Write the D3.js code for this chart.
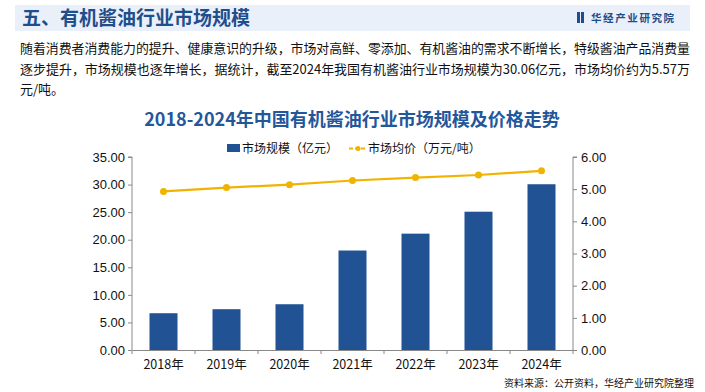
<!DOCTYPE html>
<html><head><meta charset="utf-8">
<script src="https://cdn.jsdelivr.net/npm/d3@7/dist/d3.min.js"></script>
<style>
html,body{margin:0;padding:0;background:#fff;}
svg{display:block;}
</style></head>
<body>
<svg id="c" width="705" height="392"></svg>
<script>
const categories = ["2018年","2019年","2020年","2021年","2022年","2023年","2024年"];
const marketSize = [6.67, 7.40, 8.30, 18.04, 21.10, 25.08, 30.06];
const avgPrice = [4.93, 5.05, 5.14, 5.27, 5.36, 5.44, 5.57];
const leftTicks = [0,5,10,15,20,25,30,35];
const rightTicks = [0,1,2,3,4,5,6];
const seriesNames = ["市场规模（亿元）","市场均价（万元/吨）"];

const svg = d3.select("#c");
const cjk = "'Noto Sans CJK SC','Noto Sans',sans-serif";
const num = "'Liberation Sans',Arial,sans-serif";

// header band
svg.append("rect").attr("x",15).attr("y",5).attr("width",675).attr("height",26).attr("fill","#eaf0fa");
svg.append("text").attr("x",22).attr("y",25).attr("font-family",cjk).attr("font-weight","bold")
  .attr("font-size",19).attr("fill","#1f4e8c").text("五、有机酱油行业市场规模");
// logo
svg.append("rect").attr("x",577).attr("y",12).attr("width",3).attr("height",11).attr("fill","#1f4e8c");
svg.append("rect").attr("x",581).attr("y",12).attr("width",3).attr("height",11).attr("fill","#1f4e8c");
svg.append("text").attr("x",591).attr("y",22).attr("font-family",cjk).attr("font-weight","bold")
  .attr("font-size",10.5).attr("letter-spacing",1.6).attr("fill","#1f4e8c").text("华经产业研究院");

// paragraph
const para = ["随着消费者消费能力的提升、健康意识的升级，市场对高鲜、零添加、有机酱油的需求不断增长，特级酱油产品消费量",
  "逐步提升，市场规模也逐年增长，据统计，截至2024年我国有机酱油行业市场规模为30.06亿元，市场均价约为5.57万",
  "元/吨。"];
para.forEach((t,i)=>{
  const el = svg.append("text").attr("x",20).attr("y",53+i*20.5).attr("font-family",cjk)
    .attr("font-size",13).attr("fill","#111").text(t);
  if(i<2) el.attr("textLength",670).attr("lengthAdjust","spacingAndGlyphs");
});

// chart title
svg.append("text").attr("x",352).attr("y",126).attr("text-anchor","middle").attr("font-family",cjk)
  .attr("font-weight","bold").attr("font-size",18).attr("fill","#24579a")
  .text("2018-2024年中国有机酱油行业市场规模及价格走势");

// legend
svg.append("rect").attr("x",227).attr("y",144).attr("width",13).attr("height",8).attr("fill","#215394");
svg.append("text").attr("x",242).attr("y",153).attr("font-family",cjk).attr("font-size",12).attr("fill","#111").text(seriesNames[0]);
svg.append("line").attr("x1",349).attr("x2",367).attr("y1",148.5).attr("y2",148.5).attr("stroke","#f0b400").attr("stroke-width",2).attr("stroke-dasharray","4,2");
svg.append("circle").attr("cx",358).attr("cy",148.5).attr("r",2.5).attr("fill","#f0b400");
svg.append("text").attr("x",368).attr("y",153).attr("font-family",cjk).attr("font-size",12).attr("fill","#111").text(seriesNames[1]);

// plot
const L=132, R=573, T=157, B=350;
const x = d3.scaleBand().domain(categories).range([L,R]).paddingInner(0.56).paddingOuter(0.28);
const xb = d3.scaleBand().domain(categories).range([L,R]);
const yL = d3.scaleLinear().domain([0,35]).range([B,T]);
const yR = d3.scaleLinear().domain([0,6]).range([B,T]);

svg.selectAll(".bar").data(marketSize).join("rect").attr("class","bar")
  .attr("x",(d,i)=>xb(categories[i])+xb.bandwidth()/2-14).attr("width",28)
  .attr("y",d=>yL(d)).attr("height",d=>B-yL(d)).attr("fill","#215394");

// axes
const axL = svg.append("g").attr("transform",`translate(${L},0)`)
  .call(d3.axisLeft(yL).tickValues(leftTicks).tickFormat(d3.format(".2f")).tickSize(4).tickPadding(3));
const axR = svg.append("g").attr("transform",`translate(${R},0)`)
  .call(d3.axisRight(yR).tickValues(rightTicks).tickFormat(d3.format(".2f")).tickSize(4).tickPadding(4));
const axB = svg.append("g").attr("transform",`translate(0,${B})`)
  .call(d3.axisBottom(xb).tickSize(0).tickPadding(10));
// boundary ticks on x axis
svg.append("g").selectAll("line").data(d3.range(categories.length+1)).join("line")
  .attr("x1",i=>L+i*xb.step()).attr("x2",i=>L+i*xb.step()).attr("y1",B).attr("y2",B+4)
  .attr("stroke","#888");
[axL,axR,axB].forEach(a=>{
  a.selectAll("path").attr("stroke","#888");
  a.selectAll("line").attr("stroke","#888");
  a.selectAll("text").attr("font-family",num).attr("font-size",13).attr("fill","#111");
});
axB.selectAll("text").attr("font-family",cjk).attr("font-size",12.5);
axL.select(".domain").attr("d",`M-4,${T}H0V${B}`);
axR.select(".domain").attr("d",`M4,${T}H0V${B}`);

// line
const line = d3.line().x((d,i)=>xb(categories[i])+xb.bandwidth()/2).y(d=>yR(d));
svg.append("path").datum(avgPrice).attr("d",line).attr("fill","none").attr("stroke","#f0b400").attr("stroke-width",2.2);
svg.selectAll(".pt").data(avgPrice).join("circle").attr("class","pt")
  .attr("cx",(d,i)=>xb(categories[i])+xb.bandwidth()/2).attr("cy",d=>yR(d)).attr("r",3.5).attr("fill","#f0b400");

// footer
svg.append("text").attr("x",694).attr("y",387).attr("text-anchor","end").attr("font-family",cjk)
  .attr("font-size",10).attr("fill","#111").text("资料来源：公开资料，华经产业研究院整理");
</script>
</body></html>
